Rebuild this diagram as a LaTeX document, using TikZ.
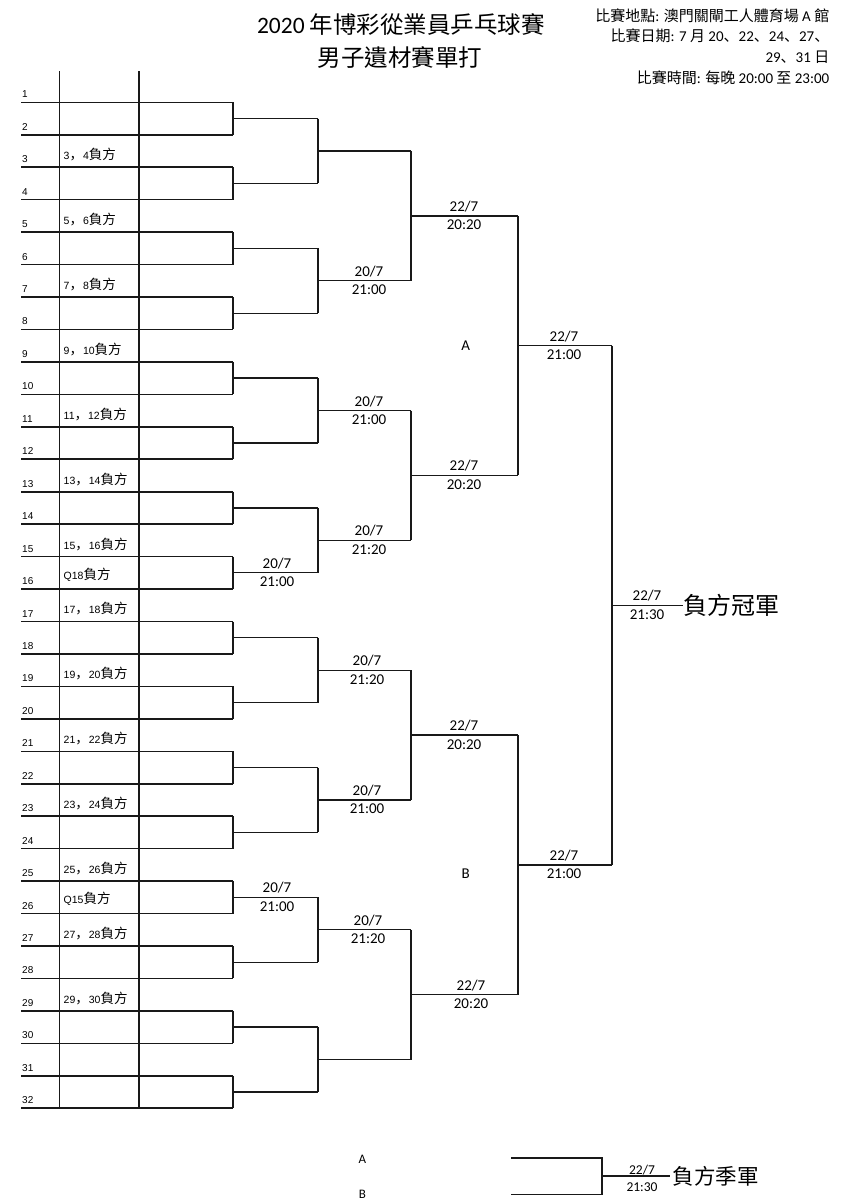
\documentclass[tikz,border=0pt]{standalone}
\usepackage{fontspec}
\setmainfont{Carlito}
\newfontfamily\arialf{Liberation Sans}
\newfontfamily\cjk{Noto Sans CJK TC}
\newfontfamily\cjkp{Noto Sans CJK SC}
\newcommand\Cj[1]{{\cjk #1}}
\newcommand\Cp[1]{{\cjkp #1}}
\newcommand\pairlab[2]{#1{\cjkp\fontsize{13.5}{14}\selectfont ，}#2{\cjk\fontsize{13.5}{14}\selectfont 負方}}
\newcommand\qlab[1]{#1{\cjk\fontsize{13.5}{14}\selectfont 負方}}
\begin{document}
\begin{tikzpicture}[x=1pt,y=-1pt,
  gridline/.style={line width=1.6pt, black!90},
  brline/.style={line width=1.3pt, black!90},
  numlab/.style={anchor=base west, inner sep=0pt, font=\arialf\fontsize{10}{12}\selectfont},
  pairtxt/.style={anchor=base west, inner sep=0pt, font=\arialf\fontsize{10.5}{12}\selectfont},
  datetxt/.style={anchor=base, inner sep=0pt, font=\fontsize{15}{16}\selectfont},
  smalldate/.style={anchor=base, inner sep=0pt, font=\fontsize{13.5}{14}\selectfont},
  grouptxt/.style={anchor=center, inner sep=0pt, font=\fontsize{15}{16}\selectfont},
  headtxt/.style={anchor=base east, inner sep=0pt, font=\fontsize{15}{16}\selectfont},
  titletxt/.style={anchor=base, inner sep=0pt, font=\fontsize{23.5}{28}\selectfont},
  resulttxt/.style={anchor=west, inner sep=0pt, font=\cjk\fontsize{24}{26}\selectfont}
]
\useasboundingbox (0,0) rectangle (842,1200);

% titles
\node[titletxt] (title1) at (401,33.3) {2020 \Cj{年博彩從業員乒乓球賽}};
\node[titletxt] (title2) at (400,66.3) {\Cj{男子遺材賽單打}};

% header right
\node[headtxt] (head1) at (829.5,21.7) {\Cj{比賽地點}: \Cj{澳門關閘工人體育場} A \Cj{館}};
\node[headtxt] (head2) at (829.5,41.7) {\Cj{比賽日期}: 7 \Cj{月} 20\Cp{、}22\Cp{、}24\Cp{、}27\Cp{、}};
\node[headtxt] (head3) at (829.5,62.3) {29\Cp{、}31 \Cj{日}};
\node[headtxt] (head4) at (829.5,83.3) {\Cj{比賽時間}: \Cj{每晚} 20:00 \Cj{至} 23:00};

% entry lines
\foreach \n in {1,...,32}{
  \pgfmathsetmacro\yy{102.3+(\n-1)*32.45}
  \coordinate (L\n) at (21,\yy);
  \coordinate (P0-\n) at (233,\yy);
  \draw[gridline] (L\n) -- (P0-\n);
  \node[numlab] (N\n) at (22,\yy-4.5) {\n};
}

% vertical grid columns
\coordinate (G1t) at (59.3,71);
\coordinate (G1b) at (59.3,1108.3);
\coordinate (G2t) at (138.8,71);
\coordinate (G2b) at (138.8,1108.3);
\draw[gridline] (G1t) -- (G1b);
\draw[gridline] (G2t) -- (G2b);

% loser labels
\foreach \n in {3,5,...,29}{
  \pgfmathsetmacro\yy{102.3+(\n-1)*32.45}
  \pgfmathtruncatemacro\mm{\n+1}
  \node[pairtxt] (PL\n) at (63.5,\yy-7.6) {\pairlab{\n}{\mm}};
}
\node[pairtxt] (QL16) at (63.5,102.3+15*32.45-10) {\qlab{Q18}};
\node[pairtxt] (QL26) at (63.5,102.3+25*32.45-10) {\qlab{Q15}};

% bracket rounds
\foreach \r/\xa/\xb/\m in {1/233/318/16, 2/318/411/8, 3/411/518/4, 4/518/612/2, 5/612/683/1}{
  \foreach \k in {1,...,\m}{
    \pgfmathtruncatemacro\aa{2*\k-1}
    \pgfmathtruncatemacro\bb{2*\k}
    \pgfmathtruncatemacro\rp{\r-1}
    \pgfmathsetmacro\yy{102.3+(2^\r*\k-(2^\r+1)/2)*32.45}
    \coordinate (Q\r-\k) at (\xa,\yy);
    \coordinate (P\r-\k) at (\xb,\yy);
    \draw[brline] (P\rp-\aa) -- (P\rp-\bb);
    \draw[brline] (Q\r-\k) -- (P\r-\k);
  }
}

% date labels: round/k/x/date/time
\foreach \r/\k/\xc/\dd/\tt in {1/8/277/20\slash 7/21:00, 1/13/277/20\slash 7/21:00,
   2/2/369/20\slash 7/21:00, 2/3/369/20\slash 7/21:00, 2/4/369/20\slash 7/21:20,
   2/5/367/20\slash 7/21:20, 2/6/367/20\slash 7/21:00, 2/7/368/20\slash 7/21:20,
   3/1/464/22\slash 7/20:20, 3/2/464/22\slash 7/20:20, 3/3/464/22\slash 7/20:20, 3/4/471/22\slash 7/20:20,
   4/1/564/22\slash 7/21:00, 4/2/564/22\slash 7/21:00,
   5/1/647/22\slash 7/21:30}{
  \pgfmathsetmacro\yy{102.3+(2^\r*\k-(2^\r+1)/2)*32.45}
  \node[datetxt] (D\r-\k) at (\xc,\yy-4.5) {\dd};
  \node[datetxt] (T\r-\k) at (\xc,\yy+14) {\tt};
}

% group letters
\node[grouptxt] (grpA) at (465.7,345.7) {A};
\node[grouptxt] (grpB) at (465.7,873.3) {B};

% champion
\node[resulttxt] (champ) at (683.5,605) {負方冠軍};

% third place
\node[grouptxt, font=\fontsize{13}{14}\selectfont] (botA) at (362.3,1159.3) {A};
\node[grouptxt, font=\fontsize{13}{14}\selectfont] (botB) at (362.3,1194) {B};
\coordinate (TA1) at (511,1158);
\coordinate (TA2) at (602,1158);
\coordinate (TB1) at (511,1194.3);
\coordinate (TB2) at (602,1194.3);
\coordinate (TM) at (602,1176);
\coordinate (TE) at (670,1176);
\draw[brline] (TA1) -- (TA2) -- (TB2) -- (TB1);
\draw[brline] (TM) -- (TE);
\node[smalldate] (TD) at (642,1174.5) {22/7};
\node[smalldate] (TT) at (642,1191.5) {21:30};
\node[resulttxt, font=\cjk\fontsize{21.5}{24}\selectfont] (third) at (672.5,1176) {負方季軍};
\end{tikzpicture}
\end{document}
